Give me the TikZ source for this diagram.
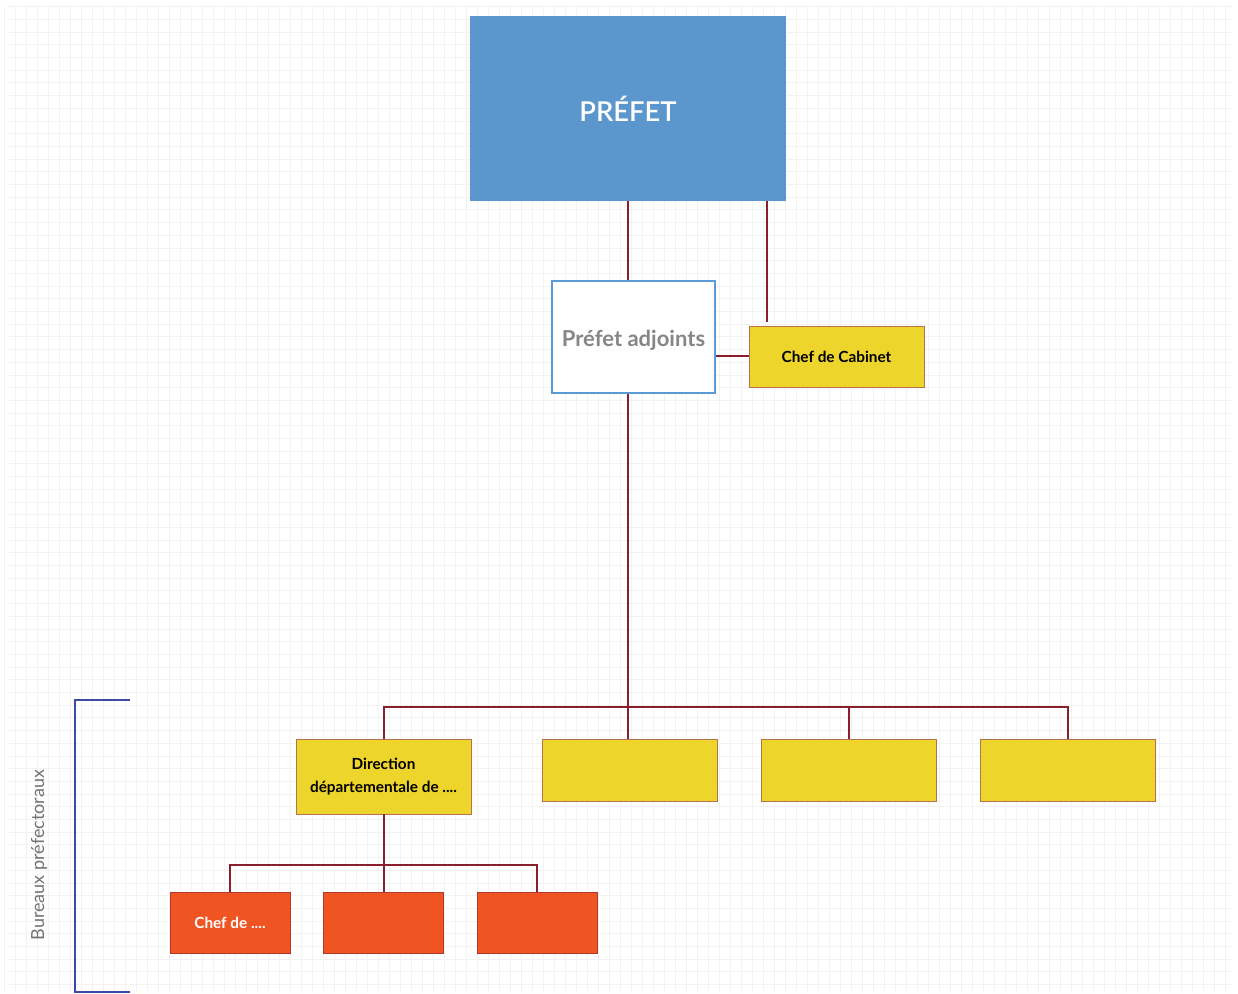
\documentclass[tikz,border=0pt]{standalone}
\usepackage{fontspec}
\setmainfont{Lato}
\newfontfamily\latosemi{Lato Semibold}
\usetikzlibrary{positioning, calc}
\definecolor{prefetblue}{HTML}{5B97CD}
\definecolor{adjblue}{HTML}{5B9BD5}
\definecolor{jaune}{HTML}{EDD52B}
\definecolor{orange}{HTML}{F05423}
\definecolor{lien}{HTML}{8B1E2C}
\definecolor{crochet}{HTML}{3B4BA3}
\definecolor{bordjaune}{HTML}{B8714C}
\definecolor{bordorange}{HTML}{B0392C}
\tikzstyle{chef} = [rectangle, fill=prefetblue, text=white, minimum width=237pt, minimum height=138.75pt, font=\latosemi\fontsize{20.5}{24}\selectfont]
\tikzstyle{adjoint} = [rectangle, fill=white, draw=adjblue, line width=1.5pt, text=gray!95, minimum width=122.25pt, minimum height=84pt, text height=17pt, font=\bfseries\fontsize{16.5}{20}\selectfont]
\tikzstyle{service} = [rectangle, fill=jaune, draw=bordjaune, line width=0.6pt, minimum width=131.25pt, minimum height=46.5pt, text centered, align=center, font=\bfseries\fontsize{11.5}{17}\selectfont]
\tikzstyle{bureau} = [rectangle, fill=orange, draw=bordorange, line width=0.6pt, text=white, minimum width=90pt, minimum height=45.75pt, text centered, font=\bfseries\fontsize{11.5}{14}\selectfont]
\tikzstyle{line} = [draw=lien, line width=1.5pt]

\begin{document}
\begin{tikzpicture}[x=0.75pt, y=-0.75pt]
			\useasboundingbox (0,0) rectangle (1238,994);
			%grille de fond
			\foreach \i in {0,...,111} \draw[black!5, line width=0.5pt] (4+\i*11,7) -- (4+\i*11,993);
			\foreach \j in {0,...,77} \draw[black!5, line width=0.5pt] (8,6.6+\j*12.7) -- (1232,6.6+\j*12.7);
			%formes
			\node (prefet) [chef] at (628,108.5) {PRÉFET};
			\node (adjoints) [adjoint] at (633.5,337) {Préfet adjoints};
			\node (cabinet) [service, minimum height=45.75pt] at (836.5,356.5) {Chef de Cabinet};
			\node (dir1) [service, minimum height=56.25pt] at (383.5,776.5) {Direction\\départementale de ....};
			\node (dir2) [service] at (629.5,770) {};
			\node (dir3) [service] at (848.5,770) {};
			\node (dir4) [service] at (1067.5,770) {};
			\node (bur1) [bureau] at (230,922.5) {Chef de ....};
			\node (bur2) [bureau] at (383.5,922.5) {};
			\node (bur3) [bureau] at (537,922.5) {};
			\coordinate (bus1) at (628,707);
			\coordinate (bus2) at (383.5,865);
			\coordinate (cab) at ($(prefet.south east)+(-19,0)$);
			%liens
			\draw [line](prefet.south) -- (prefet.south |- adjoints.north);
			\draw [line](cab) -- ($(cab |- cabinet.north)+(0,-4)$);
			\draw [line](adjoints.east |- cabinet.west) -- (cabinet.west);
			\draw [line](prefet.south |- adjoints.south) -- (bus1);
			\draw [line](dir1.north) |- (bus1) -| (dir4.north);
			\draw [line](bus1) -- (bus1 |- dir2.north);
			\draw [line](dir3.north) -- (dir3.north |- bus1);
			\draw [line](dir1.south) -- (bus2);
			\draw [line](bur1.north) |- (bus2) -| (bur3.north);
			\draw [line](bus2) -- (bur2.north);
			%crochet
			\draw [draw=crochet, line width=1.5pt] (130,700) -- (75,700) -- (75,992) -- (130,992);
			\node (bureaux) [rotate=90, text=gray!90!black, font=\fontsize{13.5}{16}\selectfont] at (39,855) {Bureaux préfectoraux};
		\end{tikzpicture}
\end{document}
